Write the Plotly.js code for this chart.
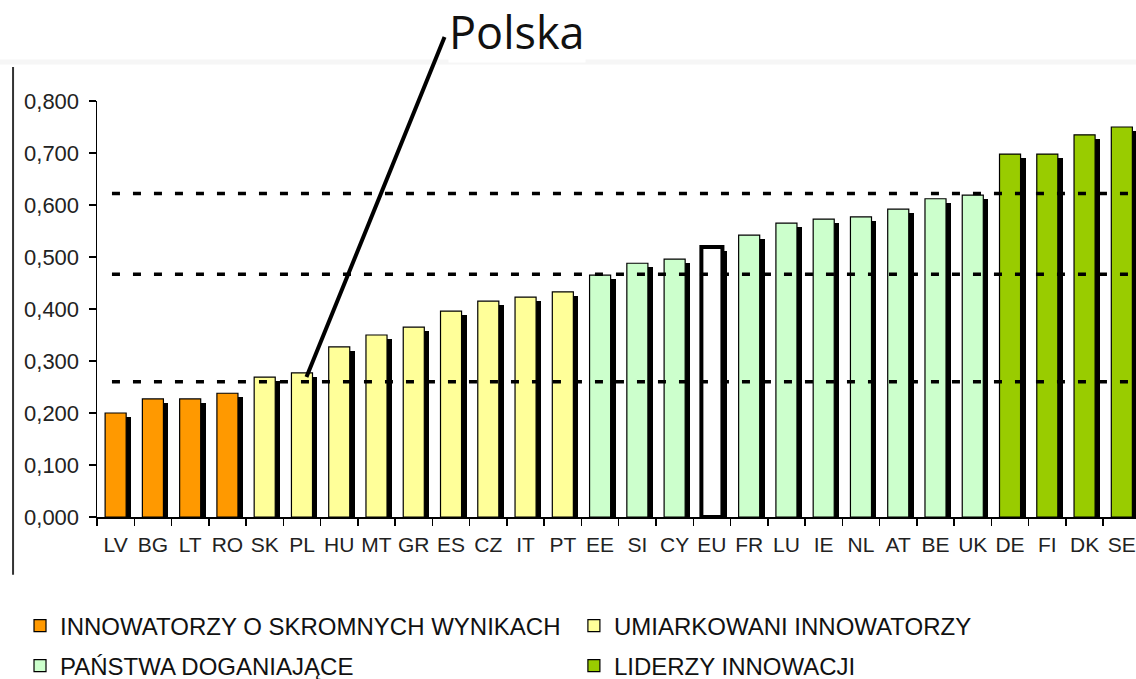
<!DOCTYPE html>
<html>
<head>
<meta charset="utf-8">
<script src="https://cdn.plot.ly/plotly-3.0.1.min.js"></script>
<style>html,body{margin:0;padding:0;background:#fff;}#chart{width:1136px;height:679px;}</style>
</head>
<body>
<div id="chart"></div>
<script>
const countries = ['LV','BG','LT','RO','SK','PL','HU','MT','GR','ES','CZ','IT','PT','EE','SI','CY','EU','FR','LU','IE','NL','AT','BE','UK','DE','FI','DK','SE'];
const values = [0.200,0.227,0.227,0.238,0.269,0.277,0.327,0.350,0.365,0.396,0.415,0.423,0.433,0.465,0.488,0.496,0.519,0.542,0.565,0.573,0.577,0.592,0.612,0.619,0.698,0.698,0.735,0.750];
const groupOf = [0,0,0,0,1,1,1,1,1,1,1,1,1,2,2,2,-1,2,2,2,2,2,2,2,3,3,3,3];
const groupNames = ['INNOWATORZY O SKROMNYCH WYNIKACH','UMIARKOWANI INNOWATORZY','PAŃSTWA DOGANIAJĄCE','LIDERZY INNOWACJI'];
const groupColors = ['#FF9900','#FFFF99','#CCFFCC','#99CC00'];
const thresholds = [0.260,0.467,0.622];
const yTicks = [0,0.1,0.2,0.3,0.4,0.5,0.6,0.7,0.8];
const annotationLabel = 'Polska';

const BAR_W = 0.565, BAR_OFF = -0.2825, SH_DX = 0.134, SH_DY = 0.008;
const FONT = 'Arial, "Liberation Sans", sans-serif';
const legendIds = ['legend','legend2','legend3','legend4'];

const traces = [];
// shadows
traces.push({
  type:'bar', x: countries, y: values.map(v => v - SH_DY),
  width: BAR_W, offset: BAR_OFF + SH_DX,
  marker:{color:'#000', line:{width:0}},
  showlegend:false, hoverinfo:'skip'
});
// groups
groupNames.forEach((name, g) => {
  const xs = [], ys = [];
  countries.forEach((c, i) => { if (groupOf[i] === g) { xs.push(c); ys.push(values[i]); } });
  traces.push({
    type:'bar', name: name, x: xs, y: ys,
    width: BAR_W, offset: BAR_OFF,
    marker:{color: groupColors[g], line:{color:'#000', width:1.2}},
    legend: legendIds[g]
  });
});
// EU average
{
  const xs = [], ys = [];
  countries.forEach((c, i) => { if (groupOf[i] === -1) { xs.push(c); ys.push(values[i]); } });
  traces.push({
    type:'bar', name:'EU', x: xs, y: ys,
    width: BAR_W, offset: BAR_OFF,
    marker:{color:'#FFFFFF', line:{color:'#000', width:4}},
    showlegend:false
  });
}

const shapes = thresholds.map(t => ({
  type:'line', xref:'paper', yref:'y', x0:0.0144, x1:1, y0:t, y1:t,
  line:{color:'#000', width:3.5, dash:'8px,13px'}, layer:'above'
}));
// Polska pointer
shapes.push({type:'line', xref:'paper', yref:'paper', x0:0.2016, y0:0.3365, x1:0.3345, y1:1.1538,
  line:{color:'#000', width:4}, layer:'above'});
// outer frame left line
shapes.push({type:'line', xref:'paper', yref:'paper', x0:-0.0808, x1:-0.0808, y0:-0.139, y1:1.082,
  line:{color:'#333', width:2}, layer:'above'});
// faint top line
shapes.push({type:'line', xref:'paper', yref:'paper', x0:-0.0934, x1:1, y0:1.0938, y1:1.0938,
  line:{color:'#f6f6f6', width:5}, layer:'below'});

const legendBase = {
  orientation:'h', xanchor:'left', yanchor:'middle',
  font:{family:FONT, size:24, color:'#111'}, bgcolor:'rgba(0,0,0,0)'
};
const legendPos = [[-0.0741,-0.262],[0.459,-0.262],[-0.0741,-0.358],[0.459,-0.358]];

const layout = {
  width:1136, height:679,
  margin:{l:97, r:0, t:101, b:162, autoexpand:false},
  paper_bgcolor:'#fff', plot_bgcolor:'#fff',
  separators:',.',
  barmode:'overlay',
  bargap:0,
  font:{family:FONT, color:'#222'},
  xaxis:{
    type:'category', categoryorder:'array', categoryarray:countries,
    range:[-0.5, 27.38], fixedrange:true,
    showline:true, linecolor:'#000', linewidth:1.5,
    ticks:'outside', tickson:'boundaries', ticklen:7, tickwidth:1.5, tickcolor:'#000',
    tickfont:{family:FONT, size:21, color:'#222'}, tickangle:0,
    ticklabelstandoff:8,
    showgrid:false, zeroline:false
  },
  yaxis:{
    range:[0,0.8], tickvals:yTicks, tickformat:'.3f',
    showline:true, linecolor:'#000', linewidth:1.5,
    ticks:'outside', ticklen:7, tickwidth:1.5, tickcolor:'#000',
    tickfont:{family:FONT, size:22, color:'#222'},
    ticklabelstandoff:5,
    showgrid:false, zeroline:false
  },
  shapes:shapes,
  annotations:[{
    text:annotationLabel, xref:'paper', yref:'paper', x:0.3374, y:1.168, xanchor:'left', yanchor:'middle',
    showarrow:false, borderpad:0, font:{family:'"Open Sans", sans-serif', size:45, color:'#111'}, bgcolor:'#fff'
  }]
};
legendIds.forEach((id, g) => {
  layout[id] = Object.assign({}, legendBase, {x: legendPos[g][0], y: legendPos[g][1]});
});

Plotly.newPlot('chart', traces, layout, {displayModeBar:false, staticPlot:true});
</script>
</body>
</html>
